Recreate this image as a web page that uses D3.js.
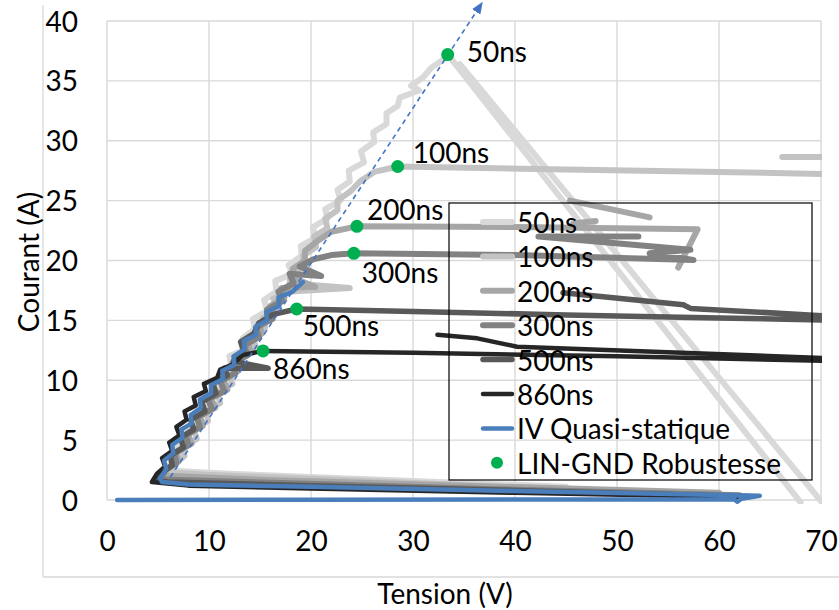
<!DOCTYPE html>
<html><head><meta charset="utf-8">
<script src="https://cdn.jsdelivr.net/npm/d3@7"></script>
<style>body{margin:0;background:#fff}svg{display:block}text{font-family:Lato,"Open Sans",sans-serif;fill:#000}</style>
</head><body><svg id="c" width="839" height="610"></svg>
<script>
// ---------- data ----------
const xTicks = [0, 10, 20, 30, 40, 50, 60, 70];
const yTicks = [0, 5, 10, 15, 20, 25, 30, 35, 40];
const seriesNames = ["50ns", "100ns", "200ns", "300ns", "500ns", "860ns", "IV Quasi-statique"];
const markerName = "LIN-GND Robustesse";

// [Tension (V), Courant (A)]; null = gap
const s50 = [[45,1.1],[25,1.75],[12,2.2],[6.4,2.45],[5.7,2.1],
  [6.1,2.9],[7.0,3.6],[6.8,4.3],[8.2,5.0],[7.8,5.8],[9.0,6.5],[8.9,7.3],[10.3,8.0],[10.0,8.9],[11.3,9.6],[11.0,10.4],
  [12.2,11.1],[12.0,12.0],[13.8,12.7],[13.3,13.5],[14.5,14.3],[14.3,15.1],[15.7,15.8],[15.4,16.7],[16.6,17.4],[16.5,18.3],
  [18.2,18.9],[17.8,19.6],[19.1,20.4],[19.0,21.2],[20.4,21.9],[20.2,22.8],[21.6,23.5],[21.4,24.3],[22.9,25.0],[22.6,25.9],
  [23.8,26.6],[23.7,27.5],[25.2,28.2],[24.9,29.1],[26.2,29.9],[26.1,30.7],[27.4,31.4],[27.4,32.3],[28.5,32.9],[28.7,33.6],
  [30.6,34.2],[29.8,34.6],[31.0,35.3],[31.8,36.1],[33.5,37.1],[68.0,-0.2], null, [34.6,36.4],[70.2,-0.3]];
const s100 = [[42,1.0],[25,1.6],[10,2.1],[6.2,2.3],
  [6.7,3.0],[7.6,3.7],[7.4,4.4],[8.8,5.1],[8.5,5.9],[9.9,6.6],[9.7,7.4],[11.1,8.1],[10.8,9.0],[12.3,9.7],[11.9,10.5],
  [13.3,11.2],[13.0,12.1],[14.6,12.8],[14.2,13.6],[15.5,14.4],[15.3,15.2],[16.8,15.9],[16.3,16.8],[17.6,17.4],[23.8,17.7],
  [17.9,18.1],[18.0,18.9],[19.4,19.6],[19.2,20.4],[20.5,21.1],[20.3,22.0],[21.6,22.7],[21.4,23.5],[22.6,24.2],[22.6,25.0],
  [23.9,25.8],[24.8,26.6],[26.2,27.4],[28.5,27.85],[45,27.6],[60,27.4],[72,27.2],[72,28.65],[66.2,28.65]];
const s200 = [[60,0.6],[35,1.2],[15,1.7],[6.4,2.0],[5.5,1.9],
  [5.9,2.6],[7.0,3.2],[6.8,4.0],[8.3,4.7],[7.9,5.5],[9.4,6.2],[9.1,7.0],[10.6,7.7],[10.2,8.5],[11.8,9.2],[11.4,10.1],
  [12.9,10.8],[12.6,11.6],[14.1,12.3],[13.8,13.1],[15.2,13.9],[14.9,14.7],[16.4,15.4],[16.0,16.2],[17.4,16.9],[17.1,17.7],
  [20.4,17.8],[18.4,18.5],[18.2,19.3],[19.4,20.0],[19.4,20.8],[20.6,21.6],[22.0,22.4],[24.5,22.85],
  [40,22.8],[57.9,22.6],[56.0,19.4], null, [45.4,25.0],[53.2,23.6], null, [45.7,23.1],[47.9,23.3]];
const s300 = [[62,0.4],[38,0.9],[18,1.4],[6.2,1.7],[5.3,1.7],
  [5.7,2.5],[6.8,3.1],[6.6,3.9],[8.0,4.6],[7.7,5.4],[9.1,6.1],[8.8,6.9],[10.3,7.6],[9.9,8.4],[11.5,9.1],[11.1,9.9],
  [12.6,10.6],[12.3,11.4],[13.8,12.1],[13.4,12.9],[14.9,13.6],[14.6,14.4],[16.2,15.1],[15.7,15.9],[17.2,16.6],[16.8,17.4],
  [18.3,18.1],[17.9,18.9],[21.0,18.7],[18.9,19.5],[20.2,20.1],[22.0,20.45],[24.2,20.6],
  [40,20.45],[57.5,20.05],[53.2,20.6],[57.2,20.9],[42.3,22.0],[52.1,22.0]];
const s500 = [[63,0.3],[40,0.8],[20,1.2],[6.0,1.5],[5.0,1.6],
  [5.4,2.3],[6.4,2.9],[6.2,3.7],[7.5,4.4],[7.2,5.2],[8.5,5.9],[8.2,6.7],[9.6,7.4],[9.3,8.2],[10.7,8.9],[10.4,9.7],
  [11.8,10.4],[11.5,11.0],[15.8,11.0],[12.4,11.6],[13.4,12.4],[13.1,13.2],[14.4,13.9],[14.9,14.8],[16.3,15.5],[18.6,15.95],
  [30,15.75],[45,15.45],[60,15.2],[72,15.0],[72,15.3],[57.2,16.0],[56.5,16.3],[44.7,17.3]];
const s860 = [[62,0.25],[40,0.6],[20,0.95],[8,1.2],[4.4,1.5],
  [4.9,2.2],[5.7,2.8],[5.4,3.5],[6.4,4.1],[6.1,4.8],[7.1,5.4],[6.8,6.1],[7.8,6.7],[7.6,7.4],[8.7,7.9],[8.5,8.6],
  [9.7,9.1],[9.5,9.7],[10.8,10.2],[11.1,10.9],[12.3,11.3],[13.3,12.1],[15.3,12.45],
  [30,12.3],[50,12.0],[72,11.6],[72,11.8],[40.2,12.8],[36.3,13.5],[32.4,13.8]];
const sQS = [[1.0,0.0],[20,0.02],[45,0.05],[61.5,0.05],[61.8,-0.15],[62.2,0.1],[64.0,0.35],[40,0.75],[20,1.1],[8,1.3],
  [5.4,1.5],[5.2,1.8],[5.8,2.6],[5.6,3.3],[6.5,3.9],[6.4,4.6],[7.4,5.2],[7.3,5.9],[8.3,6.4],[8.2,7.1],[9.2,7.7],[9.1,8.4],
  [10.2,8.9],[10.2,9.6],[11.4,10.1],[11.3,10.8],[12.5,11.3],[12.4,12.0],[13.5,12.6],[13.4,13.3],[14.6,13.8],[14.6,14.5],
  [15.7,15.0],[15.6,15.7],[16.9,16.2],[16.8,16.9],[18.2,17.4],[19.2,18.2]];
const seriesData = [s50, s100, s200, s300, s500, s860, sQS];

// LIN-GND Robustesse points
const robustV = [33.4, 28.5, 24.5, 24.2, 18.6, 15.3];
const robustI = [37.2, 27.85, 22.85, 20.6, 15.95, 12.45];
const robustLabels = ["50ns", "100ns", "200ns", "300ns", "500ns", "860ns"];

// trend arrow (V, A)
const trendFrom = [6.2, 1.9];
const trendTo = [36.3, 40.9];

// ---------- style ----------
const colors = ["#d9d9d9", "#c3c3c3", "#a6a6a6", "#828282", "#595959", "#262626", "#4a7ebb"];
const widths = [6, 6, 6, 6, 5.5, 4.5, 4.5];
const labelOffsets = [[19,-4],[15,-14],[10,-17],[8,19],[6,16],[10,17]];
const FONT = 28;

// ---------- chart ----------
const svg = d3.select("#c");
const x = d3.scaleLinear().domain([0, 70]).range([107, 821]);
const y = d3.scaleLinear().domain([0, 40]).range([500, 21]);

// outer frame lines
svg.append("line").attr("x1",43).attr("x2",43).attr("y1",5).attr("y2",577).attr("stroke","#d9d9d9").attr("stroke-width",1.3);
svg.append("line").attr("x1",43).attr("x2",839).attr("y1",577).attr("y2",577).attr("stroke","#d9d9d9").attr("stroke-width",1.3);

// gridlines
const grid = svg.append("g").attr("stroke", "#d9d9d9").attr("stroke-width", 1.4);
xTicks.forEach(t => grid.append("line").attr("x1", x(t)).attr("x2", x(t)).attr("y1", y(0)).attr("y2", y(40)));
yTicks.forEach(t => grid.append("line").attr("x1", x(0)).attr("x2", x(70)).attr("y1", y(t)).attr("y2", y(t)));

// axes (labels only, via d3 axes)
const xAxis = svg.append("g").attr("transform", `translate(0,${y(0) + 37})`)
  .call(d3.axisBottom(x).tickValues(xTicks).tickSize(0).tickPadding(0));
const yAxis = svg.append("g").attr("transform", `translate(${x(0) - 29},0)`)
  .call(d3.axisLeft(y).tickValues(yTicks).tickSize(0).tickPadding(0));
[xAxis, yAxis].forEach(a => { a.select(".domain").remove(); a.selectAll("text").attr("font-size", FONT).attr("font-family", "Lato").attr("fill", "#000"); });
xAxis.selectAll("text").attr("dy", "0.5em");
yAxis.selectAll("text").attr("dy", "0.36em");

// axis titles
svg.append("text").attr("x", 445).attr("y", 593).attr("text-anchor", "middle").attr("dominant-baseline", "central")
  .attr("font-size", FONT).text("Tension (V)");
svg.append("text").attr("transform", "translate(28,262) rotate(-90)").attr("text-anchor", "middle").attr("dominant-baseline", "central")
  .attr("font-size", FONT).text("Courant (A)");

// clip
svg.append("clipPath").attr("id", "clip").append("rect")
  .attr("x", x(0) - 4).attr("y", y(40) - 3).attr("width", x(70) - x(0) + 5).attr("height", y(0) - y(40) + 7);

const line = d3.line().defined(d => d !== null).x(d => x(d[0])).y(d => y(d[1]));
const plot = svg.append("g").attr("clip-path", "url(#clip)");
seriesData.forEach((s, i) => {
  plot.append("path").attr("d", line(s)).attr("fill", "none").attr("stroke", colors[i])
    .attr("stroke-width", widths[i]).attr("stroke-linejoin", "round").attr("stroke-linecap", "round");
});

// trend arrow
svg.append("defs").append("marker").attr("id", "arr").attr("markerUnits", "userSpaceOnUse")
  .attr("viewBox", "0 0 12 10").attr("refX", 2).attr("refY", 5).attr("markerWidth", 12).attr("markerHeight", 10)
  .attr("orient", "auto").append("path").attr("d", "M0,0 L12,5 L0,10 Z").attr("fill", "#4472c4");
svg.append("line").attr("x1", x(trendFrom[0])).attr("y1", y(trendFrom[1])).attr("x2", x(trendTo[0])).attr("y2", y(trendTo[1]))
  .attr("stroke", "#4472c4").attr("stroke-width", 1.6).attr("stroke-dasharray", "5,4").attr("marker-end", "url(#arr)");

// robustness points + labels
robustV.forEach((v, i) => {
  svg.append("circle").attr("cx", x(v)).attr("cy", y(robustI[i])).attr("r", 6.5).attr("fill", "#00b050");
  svg.append("text").attr("x", x(v) + labelOffsets[i][0]).attr("y", y(robustI[i]) + labelOffsets[i][1])
    .attr("dominant-baseline", "central").attr("font-size", FONT).text(robustLabels[i]);
});

// legend
const lg = svg.append("g");
lg.append("rect").attr("x", 449).attr("y", 203).attr("width", 363).attr("height", 277)
  .attr("fill", "none").attr("stroke", "#000").attr("stroke-width", 1.2);
const rowY = i => 222 + i * 34.4;
seriesNames.forEach((n, i) => {
  lg.append("line").attr("x1", 483).attr("x2", 512).attr("y1", rowY(i)).attr("y2", rowY(i))
    .attr("stroke", colors[i]).attr("stroke-width", widths[i]).attr("stroke-linecap", "round");
  lg.append("text").attr("x", 517).attr("y", rowY(i)).attr("dominant-baseline", "central").attr("font-size", FONT).text(n);
});
lg.append("circle").attr("cx", 497).attr("cy", rowY(7)).attr("r", 6).attr("fill", "#00b050");
lg.append("text").attr("x", 517).attr("y", rowY(7)).attr("dominant-baseline", "central").attr("font-size", FONT).text(markerName);
</script></body></html>
